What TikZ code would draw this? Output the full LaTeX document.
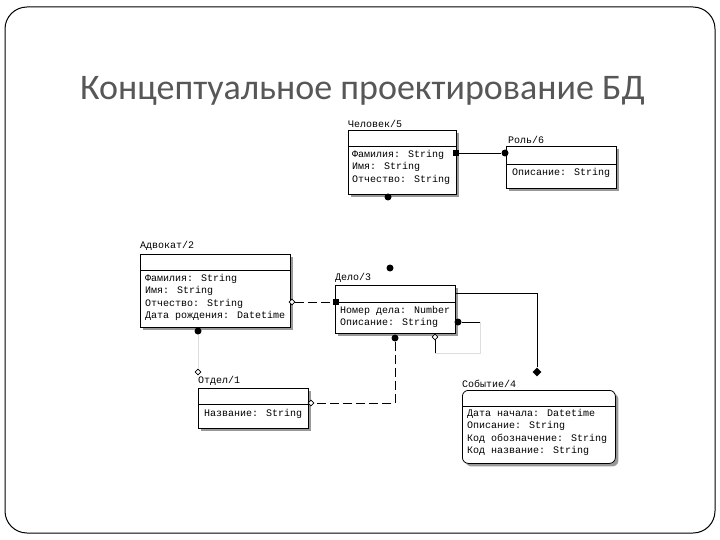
\documentclass[tikz,border=0pt]{standalone}
\usepackage{fontspec}
\setmainfont{Liberation Serif}
\newfontfamily\titlef{Carlito}
\newfontfamily\monof{Liberation Mono}
\usetikzlibrary{shadows,shapes.geometric}
\tikzset{
 ent/.style={draw, line width=0.8pt, fill=white, anchor=north west, inner sep=0pt,
   general shadow={shadow xshift=3pt, shadow yshift=-3pt, fill=black!40}},
 txt/.style={anchor=north west, inner sep=0pt, font=\monof\fontsize{10}{12.3}\selectfont, align=left},
 lbl/.style={anchor=south west, inner sep=0pt, font=\monof\fontsize{10}{12}\selectfont},
 fdot/.style={circle, fill=black, inner sep=0pt, minimum size=7pt},
 fsq/.style={rectangle, fill=black, inner sep=0pt, minimum size=6pt},
 odia/.style={diamond, draw, fill=white, inner sep=0pt, minimum size=6pt, line width=0.6pt},
 fdia/.style={diamond, fill=black, inner sep=0pt, minimum size=9pt},
 rel/.style={line width=0.8pt},
 dashrel/.style={line width=0.8pt, dash pattern=on 9pt off 4pt},
 relg/.style={line width=0.8pt, black!13},
 div/.style={line width=0.8pt},
}
\begin{document}
\begin{tikzpicture}[x=1pt,y=-1pt]
\useasboundingbox (0,0) rectangle (720,540);
\draw[line width=1pt, rounded corners=22pt] (5,7) rectangle (715,533);
\node[anchor=base west, inner sep=0pt, text=black!66, font=\titlef\fontsize{36}{40}\selectfont] (title) at (80,100) {Концептуальное проектирование БД};

% Человек/5
\node[ent, minimum width=108pt, minimum height=64pt] (chel) at (348,130) {};
\draw[div] (348,146) -- (456,146);
\node[lbl] (chelL) at (348,128) {Человек/5};
\node[txt] (chelA) at (352,150) {Фамилия: String\\Имя: String\\Отчество: String};

% Роль/6
\node[ent, minimum width=110pt, minimum height=42pt] (rol) at (506,146) {};
\draw[div] (506,164) -- (616,164);
\node[lbl] (rolL) at (508,144) {Роль/6};
\node[txt] (rolA) at (512,168) {Описание: String};

% Адвокат/2
\node[ent, minimum width=150pt, minimum height=73pt] (adv) at (140,254) {};
\draw[div] (140,270) -- (290,270);
\node[lbl] (advL) at (140,251) {Адвокат/2};
\node[txt] (advA) at (145,274) {Фамилия: String\\Имя: String\\Отчество: String\\Дата рождения: Datetime};

% Дело/3
\node[ent, minimum width=120pt, minimum height=48pt] (delo) at (335,285) {};
\draw[div] (335,302) -- (455,302);
\node[lbl] (deloL) at (335,283) {Дело/3};
\node[txt] (deloA) at (340,306) {Номер дела: Number\\Описание: String};

% Отдел/1
\node[ent, minimum width=110pt, minimum height=40pt] (otd) at (198,388) {};
\draw[div] (198,404) -- (308,404);
\node[lbl] (otdL) at (198,386) {Отдел/1};
\node[txt] (otdA) at (204,409) {Название: String};

% Событие/4
\node[ent, rounded corners=6pt, minimum width=153pt, minimum height=73pt] (sob) at (462,390) {};
\draw[div] (462,406) -- (615,406);
\node[lbl] (sobL) at (462,388) {Событие/4};
\node[txt] (sobA) at (467,409) {Дата начала: Datetime\\Описание: String\\Код обозначение: String\\Код название: String};

% Человек -- Роль
\node[fsq] (m1) at (456,153) {};
\node[fdot] (m2) at (505,153) {};
\draw[rel] (m1) -- (m2);

% loose dots
\node[fdot] (m3) at (388,197) {};
\node[fdot] (m4) at (390,268) {};

% Адвокат -- Дело
\node[odia] (m5) at (292,302) {};
\node[fsq] (m6) at (336,302) {};
\draw[dashrel] (m5) -- (m6);

% Дело -- Событие
\coordinate (c1) at (456,293);
\node[fdia] (m7) at (537,372) {};
\draw[rel] (c1) -| (m7);

% Дело self relation
\node[fdot] (m8) at (458,322) {};
\coordinate (c2) at (480,322);
\coordinate (c3) at (480,353);
\coordinate (c4) at (435,353);
\node[odia] (m9) at (435,337) {};
\draw[rel] (m8) -- (c2);
\draw[relg] (c2) -- (c3) -- (c4);
\draw[rel] (c4) -- (m9);

% Дело -- Отдел
\node[fdot] (m10) at (395,338) {};
\node[odia] (m11) at (311,403) {};
\coordinate (c5) at (395,403);
\draw[dashrel] (m10) -- (c5) -- (m11);

% Адвокат -- Отдел
\node[fdot] (m12) at (198,331) {};
\node[odia] (m13) at (198,372) {};
\draw[relg] (m12) -- (m13);
\end{tikzpicture}
\end{document}
